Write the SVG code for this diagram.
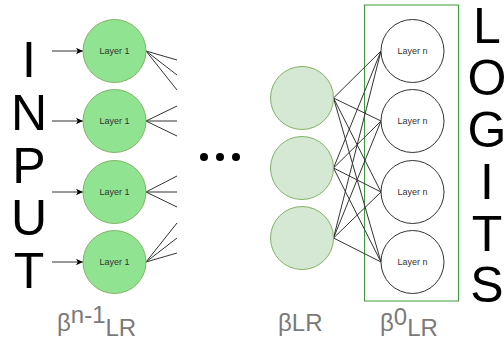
<svg xmlns="http://www.w3.org/2000/svg" width="504" height="341" viewBox="0 0 504 341">
<defs>
<marker id="arr" markerWidth="8" markerHeight="8" refX="7" refY="4" orient="auto" markerUnits="userSpaceOnUse"><path d="M0,0.8 L7,4 L0,7.2 L1.8,4 Z" fill="#000"/></marker>
<style>
.big{font-family:"Liberation Sans",Arial,sans-serif;font-size:50px;fill:#000;text-anchor:middle}
.c1{fill:#90e390;stroke:#82b366;stroke-width:1}
.c2{fill:#d5e8d4;stroke:#82b366;stroke-width:1}
.c3{fill:#fff;stroke:#333;stroke-width:1}
.lt{font-family:"Liberation Sans",Arial,sans-serif;font-size:9px;fill:#333;text-anchor:middle}
.lbl{font-family:"Liberation Sans",Arial,sans-serif;font-size:24px;fill:#7a7a7a}
.e{stroke:#333;stroke-width:1;fill:none}
</style>
</defs>
<rect width="504" height="341" fill="#fff"/>
<g id="input-text"><text class="big"><tspan x="29" y="77">I</tspan><tspan x="29" y="130">N</tspan><tspan x="29" y="183">P</tspan><tspan x="29" y="235">U</tspan><tspan x="29" y="288">T</tspan></text></g>
<g id="logits-text"><text class="big"><tspan x="487" y="43">L</tspan><tspan x="487" y="95">O</tspan><tspan x="487" y="147">G</tspan><tspan x="487" y="199">I</tspan><tspan x="487" y="251">T</tspan><tspan x="487" y="302">S</tspan></text></g>
<g id="output-box"><rect x="364.5" y="5" width="94" height="296" fill="none" stroke="#3c9a3c" stroke-width="1"/></g>
<g id="connectors">
<line class="e" x1="52" y1="51" x2="83" y2="51" marker-end="url(#arr)" stroke="#000"/>
<line class="e" x1="52" y1="121" x2="83" y2="121" marker-end="url(#arr)" stroke="#000"/>
<line class="e" x1="52" y1="192" x2="83" y2="192" marker-end="url(#arr)" stroke="#000"/>
<line class="e" x1="52" y1="262" x2="83" y2="262" marker-end="url(#arr)" stroke="#000"/>
<path class="e" d="M146,51 L177,60 M146,51 L177,75 M146,51 L177,90 M146,121 L177,106 M146,121 L177,121 M146,121 L177,136 M146,192 L177,176 M146,192 L177,192 M146,192 L177,207 M146,262 L177,223 M146,262 L177,238 M146,262 L177,253"/>
<path class="e" d="M333.5,98 L381,51 M333.5,98 L381,121 M333.5,98 L381,192 M333.5,98 L381,262 M333.5,168 L381,51 M333.5,168 L381,121 M333.5,168 L381,192 M333.5,168 L381,262 M333.5,238 L381,51 M333.5,238 L381,121 M333.5,238 L381,192 M333.5,238 L381,262"/>
</g>
<g id="layer1-a"><circle class="c1" cx="114.5" cy="51" r="31.5"/><text class="lt" x="114.5" y="54">Layer 1</text></g>
<g id="layer1-b"><circle class="c1" cx="114.5" cy="121" r="31.5"/><text class="lt" x="114.5" y="124">Layer 1</text></g>
<g id="layer1-c"><circle class="c1" cx="114.5" cy="192" r="31.5"/><text class="lt" x="114.5" y="195">Layer 1</text></g>
<g id="layer1-d"><circle class="c1" cx="114.5" cy="262" r="31.5"/><text class="lt" x="114.5" y="265">Layer 1</text></g>
<g id="dots"><circle cx="204" cy="157" r="4" fill="#000"/><circle cx="220" cy="157" r="4" fill="#000"/><circle cx="236" cy="157" r="4" fill="#000"/></g>
<g id="mid-a"><circle class="c2" cx="302" cy="98" r="31.5"/></g>
<g id="mid-b"><circle class="c2" cx="302" cy="168" r="31.5"/></g>
<g id="mid-c"><circle class="c2" cx="302" cy="238" r="31.5"/></g>
<g id="layern-a"><circle class="c3" cx="412.5" cy="51" r="31.5"/><text class="lt" x="412.5" y="54">Layer n</text></g>
<g id="layern-b"><circle class="c3" cx="412.5" cy="121" r="31.5"/><text class="lt" x="412.5" y="124">Layer n</text></g>
<g id="layern-c"><circle class="c3" cx="412.5" cy="192" r="31.5"/><text class="lt" x="412.5" y="195">Layer n</text></g>
<g id="layern-d"><circle class="c3" cx="412.5" cy="262" r="31.5"/><text class="lt" x="412.5" y="265">Layer n</text></g>
<g id="label-left"><text class="lbl" x="57" y="331">β<tspan y="323">n-1</tspan><tspan y="336">LR</tspan></text></g>
<g id="label-mid"><text class="lbl" x="278" y="331">βLR</text></g>
<g id="label-right"><text class="lbl" x="380" y="331">β<tspan y="325">0</tspan><tspan y="336">LR</tspan></text></g>
</svg>
